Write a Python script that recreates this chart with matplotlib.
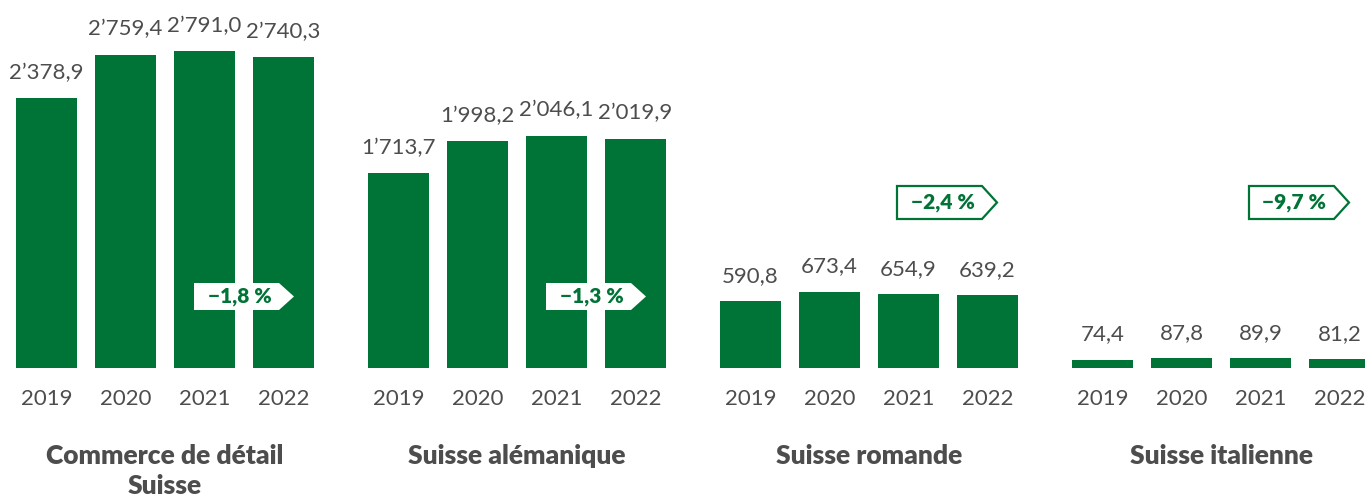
import matplotlib
matplotlib.use("Agg")
import matplotlib.pyplot as plt
from matplotlib.patches import Polygon

plt.rcParams['font.family'] = ['Lato', 'DejaVu Sans']

# ---- data ----
groups = ["Commerce de détail\nSuisse", "Suisse alémanique", "Suisse romande", "Suisse italienne"]
years = ["2019", "2020", "2021", "2022"]
commerce_suisse = [2378.9, 2759.4, 2791.0, 2740.3]
suisse_alemanique = [1713.7, 1998.2, 2046.1, 2019.9]
suisse_romande = [590.8, 673.4, 654.9, 639.2]
suisse_italienne = [74.4, 87.8, 89.9, 81.2]
changes = [-1.8, -1.3, -2.4, -9.7]

series = [commerce_suisse, suisse_alemanique, suisse_romande, suisse_italienne]

GREEN = "#007336"
GRAY = "#4d4d4d"

W, H = 1365, 500
fig = plt.figure(figsize=(W / 100, H / 100), dpi=100)
ax = fig.add_axes([0, 0, 1, 1])
BASE = 368.0          # baseline pixel row (from top)
S = 0.1136            # pixels per unit
ax.set_xlim(0, W)
ax.set_ylim(-(H - BASE) / S, BASE / S)
ax.axis('off')


def py(p):
    """pixel row from top -> data y"""
    return (BASE - p) / S


def fmt(v):
    s = f"{v:,.1f}"
    return s.replace(",", "’").replace(".", ",")


def fmt_pct(v):
    s = f"{abs(v):.1f}".replace(".", ",")
    return ("\u2212" if v < 0 else "") + s + " %"


x0, step, gstep, bw = 46.5, 79.0, 352.0, 61.0
for g, vals in enumerate(series):
    xs = [x0 + gstep * g + step * i for i in range(len(vals))]
    ax.bar(xs, vals, width=bw, color=GREEN, linewidth=0)
    for x, v in zip(xs, vals):
        ax.annotate(fmt(v), (x, v), xytext=(0, 19), textcoords='offset pixels',
                    ha='center', va='baseline', fontsize=16, color=GRAY)
    for x, yl in zip(xs, years):
        ax.text(x, py(405), yl, ha='center', va='baseline', fontsize=16, color=GRAY)
    gc = (xs[0] + xs[-1]) / 2
    for k, line in enumerate(groups[g].split("\n")):
        ax.text(gc, py(464 + 30 * k), line, ha='center', va='baseline',
                fontsize=19, fontweight='heavy', color=GRAY)

    # badge
    if g < 2:
        left, top, bot = 194 + gstep * g, 283, 310
        ec, lw = 'white', 0
    else:
        left, top, bot = 897 + gstep * (g - 2), 186, 219
        ec, lw = GREEN, 1.6
    body = 85
    tip = 15
    mid = (top + bot) / 2
    pts = [(left, py(top)), (left + body, py(top)), (left + body + tip, py(mid)),
           (left + body, py(bot)), (left, py(bot))]
    ax.add_patch(Polygon(pts, closed=True, facecolor='white', edgecolor=ec,
                         linewidth=lw, joinstyle='miter', zorder=3))
    ax.text(left + body / 2 + 3, py(mid + 6.5), fmt_pct(changes[g]), ha='center',
            va='baseline', fontsize=15, fontweight='heavy', color=GREEN, zorder=4)

fig.savefig("out.png", dpi=100)
